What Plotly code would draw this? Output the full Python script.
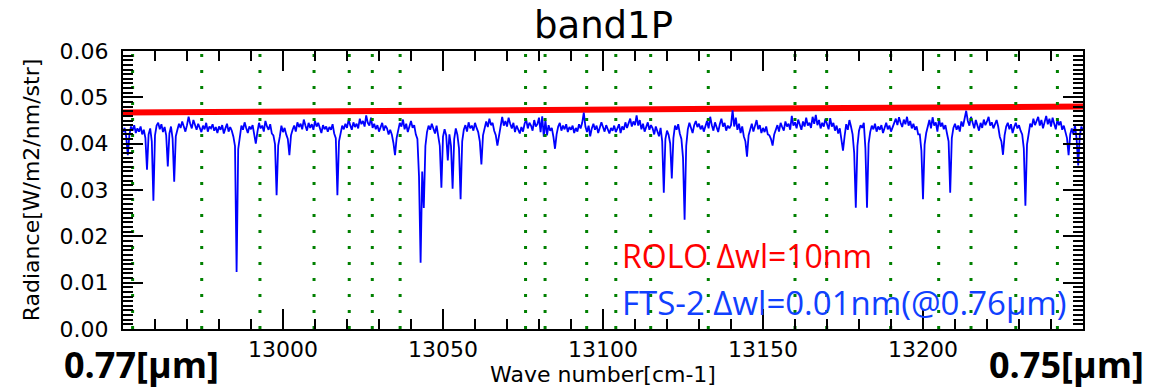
import numpy as np
import plotly.graph_objects as go

# ---------------- data ----------------
wn_start = 12950.0
wn_step = 0.5
# FTS-2 radiance, sampled every 0.5 cm-1 from 12950 to 13250 (one row = 10 cm-1)
radiance = [
    0.0425, 0.0434, 0.0415, 0.0375, 0.0419, 0.0437, 0.0428, 0.0440, 0.0423, 0.0433, 0.0426, 0.0437, 0.0420, 0.0430, 0.0412, 0.0344, 0.0420, 0.0433, 0.0405, 0.0277,
    0.0418, 0.0439, 0.0445, 0.0431, 0.0442, 0.0425, 0.0436, 0.0418, 0.0351, 0.0422, 0.0437, 0.0411, 0.0318, 0.0416, 0.0430, 0.0443, 0.0434, 0.0448, 0.0437, 0.0426,
    0.0440, 0.0458, 0.0443, 0.0433, 0.0451, 0.0439, 0.0430, 0.0443, 0.0434, 0.0425, 0.0439, 0.0431, 0.0445, 0.0426, 0.0437, 0.0433, 0.0442, 0.0428, 0.0436, 0.0423,
    0.0437, 0.0430, 0.0440, 0.0422, 0.0433, 0.0443, 0.0426, 0.0436, 0.0428, 0.0415, 0.0395, 0.0123, 0.0388, 0.0419, 0.0439, 0.0430, 0.0446, 0.0434, 0.0423, 0.0437,
    0.0431, 0.0440, 0.0416, 0.0400, 0.0425, 0.0445, 0.0433, 0.0439, 0.0426, 0.0449, 0.0437, 0.0430, 0.0442, 0.0422, 0.0418, 0.0399, 0.0289, 0.0396, 0.0415, 0.0439,
    0.0425, 0.0434, 0.0420, 0.0410, 0.0375, 0.0418, 0.0430, 0.0439, 0.0426, 0.0446, 0.0436, 0.0443, 0.0431, 0.0452, 0.0439, 0.0428, 0.0445, 0.0434, 0.0442, 0.0430,
    0.0449, 0.0437, 0.0445, 0.0433, 0.0423, 0.0440, 0.0431, 0.0437, 0.0426, 0.0436, 0.0430, 0.0442, 0.0422, 0.0412, 0.0289, 0.0405, 0.0425, 0.0439, 0.0431, 0.0443,
    0.0434, 0.0452, 0.0440, 0.0430, 0.0446, 0.0436, 0.0443, 0.0433, 0.0454, 0.0442, 0.0449, 0.0437, 0.0461, 0.0445, 0.0439, 0.0456, 0.0434, 0.0443, 0.0431, 0.0440,
    0.0426, 0.0437, 0.0445, 0.0428, 0.0439, 0.0433, 0.0420, 0.0430, 0.0420, 0.0402, 0.0375, 0.0412, 0.0433, 0.0445, 0.0437, 0.0452, 0.0431, 0.0443, 0.0425, 0.0439,
    0.0449, 0.0434, 0.0440, 0.0420, 0.0410, 0.0330, 0.0143, 0.0340, 0.0261, 0.0395, 0.0425, 0.0439, 0.0430, 0.0443, 0.0433, 0.0422, 0.0439, 0.0420, 0.0395, 0.0305,
    0.0415, 0.0431, 0.0418, 0.0364, 0.0420, 0.0395, 0.0303, 0.0410, 0.0433, 0.0419, 0.0390, 0.0280, 0.0405, 0.0430, 0.0440, 0.0426, 0.0446, 0.0433, 0.0439, 0.0428,
    0.0445, 0.0434, 0.0425, 0.0405, 0.0355, 0.0418, 0.0437, 0.0448, 0.0436, 0.0454, 0.0440, 0.0445, 0.0428, 0.0418, 0.0396, 0.0420, 0.0443, 0.0458, 0.0439, 0.0449,
    0.0437, 0.0456, 0.0443, 0.0433, 0.0445, 0.0425, 0.0439, 0.0430, 0.0422, 0.0436, 0.0426, 0.0443, 0.0452, 0.0433, 0.0445, 0.0439, 0.0428, 0.0451, 0.0437, 0.0442,
    0.0456, 0.0425, 0.0459, 0.0415, 0.0451, 0.0418, 0.0440, 0.0428, 0.0434, 0.0415, 0.0389, 0.0420, 0.0437, 0.0445, 0.0428, 0.0439, 0.0431, 0.0442, 0.0425, 0.0436,
    0.0430, 0.0439, 0.0423, 0.0434, 0.0426, 0.0442, 0.0433, 0.0445, 0.0467, 0.0437, 0.0425, 0.0439, 0.0416, 0.0433, 0.0443, 0.0430, 0.0439, 0.0423, 0.0437, 0.0446,
    0.0436, 0.0426, 0.0440, 0.0430, 0.0422, 0.0434, 0.0428, 0.0439, 0.0425, 0.0433, 0.0442, 0.0423, 0.0437, 0.0430, 0.0446, 0.0434, 0.0443, 0.0454, 0.0437, 0.0448,
    0.0440, 0.0461, 0.0439, 0.0451, 0.0431, 0.0443, 0.0426, 0.0437, 0.0446, 0.0430, 0.0440, 0.0433, 0.0420, 0.0437, 0.0428, 0.0416, 0.0434, 0.0405, 0.0294, 0.0410,
    0.0428, 0.0419, 0.0400, 0.0325, 0.0412, 0.0439, 0.0430, 0.0442, 0.0422, 0.0410, 0.0370, 0.0236, 0.0395, 0.0431, 0.0445, 0.0433, 0.0423, 0.0440, 0.0449, 0.0436,
    0.0443, 0.0431, 0.0439, 0.0426, 0.0437, 0.0449, 0.0433, 0.0458, 0.0440, 0.0428, 0.0446, 0.0436, 0.0425, 0.0442, 0.0454, 0.0437, 0.0445, 0.0428, 0.0439, 0.0433,
    0.0440, 0.0472, 0.0437, 0.0456, 0.0430, 0.0443, 0.0423, 0.0437, 0.0416, 0.0405, 0.0372, 0.0418, 0.0433, 0.0443, 0.0426, 0.0439, 0.0451, 0.0431, 0.0440, 0.0423,
    0.0434, 0.0425, 0.0437, 0.0420, 0.0418, 0.0410, 0.0396, 0.0420, 0.0433, 0.0440, 0.0426, 0.0445, 0.0436, 0.0428, 0.0448, 0.0437, 0.0443, 0.0430, 0.0460, 0.0439,
    0.0446, 0.0433, 0.0452, 0.0440, 0.0430, 0.0448, 0.0437, 0.0456, 0.0439, 0.0445, 0.0434, 0.0458, 0.0443, 0.0462, 0.0440, 0.0451, 0.0433, 0.0445, 0.0437, 0.0454,
    0.0442, 0.0431, 0.0455, 0.0437, 0.0445, 0.0428, 0.0439, 0.0422, 0.0433, 0.0412, 0.0385, 0.0416, 0.0442, 0.0430, 0.0451, 0.0437, 0.0420, 0.0380, 0.0262, 0.0395,
    0.0428, 0.0440, 0.0434, 0.0445, 0.0390, 0.0262, 0.0400, 0.0425, 0.0439, 0.0431, 0.0443, 0.0426, 0.0437, 0.0430, 0.0440, 0.0423, 0.0434, 0.0445, 0.0431, 0.0439,
    0.0426, 0.0437, 0.0446, 0.0454, 0.0440, 0.0457, 0.0445, 0.0436, 0.0452, 0.0442, 0.0458, 0.0439, 0.0449, 0.0433, 0.0443, 0.0430, 0.0437, 0.0420, 0.0420, 0.0385,
    0.0280, 0.0398, 0.0423, 0.0440, 0.0451, 0.0433, 0.0457, 0.0439, 0.0446, 0.0426, 0.0454, 0.0437, 0.0445, 0.0431, 0.0440, 0.0422, 0.0405, 0.0294, 0.0412, 0.0434,
    0.0443, 0.0430, 0.0439, 0.0426, 0.0448, 0.0437, 0.0455, 0.0471, 0.0449, 0.0439, 0.0458, 0.0443, 0.0433, 0.0451, 0.0439, 0.0428, 0.0445, 0.0434, 0.0452, 0.0440,
    0.0448, 0.0458, 0.0439, 0.0446, 0.0433, 0.0442, 0.0451, 0.0437, 0.0415, 0.0405, 0.0376, 0.0418, 0.0437, 0.0445, 0.0431, 0.0442, 0.0423, 0.0436, 0.0445, 0.0433,
    0.0440, 0.0428, 0.0420, 0.0390, 0.0266, 0.0398, 0.0426, 0.0443, 0.0436, 0.0454, 0.0440, 0.0448, 0.0458, 0.0439, 0.0451, 0.0433, 0.0445, 0.0460, 0.0442, 0.0454,
    0.0437, 0.0456, 0.0443, 0.0431, 0.0452, 0.0440, 0.0448, 0.0430, 0.0439, 0.0425, 0.0412, 0.0375, 0.0420, 0.0433, 0.0420, 0.0440, 0.0410, 0.0353, 0.0418, 0.0437,
    0.0428,
]
wavenumber = wn_start + wn_step * np.arange(len(radiance))

# ROLO (10 nm resolution) radiance
rolo_wavenumber = [12950, 13250]
rolo_radiance = [0.0467, 0.0480]

# band boundaries (green dotted lines), cm-1
band_lines = [12953.0, 12974.6, 12992.8, 13009.7, 13020.7, 13027.9, 13036.6,
              13075.8, 13081.9, 13094.9, 13104.0, 13114.9, 13132.9, 13160.0,
              13169.9, 13189.9, 13204.9, 13215.0, 13229.0, 13242.0]

x_range = [12950, 13250]
y_range = [0.0, 0.06]
x_tickvals = [13000, 13050, 13100, 13150, 13200]
y_tickvals = [0.00, 0.01, 0.02, 0.03, 0.04, 0.05, 0.06]

title_text = "band1P"
x_title = "Wave number[cm-1]"
y_title = "Radiance[W/m2/nm/str]"
rolo_label = "ROLO Δwl=10nm"
fts_label = "FTS-2 Δwl=0.01nm(@0.76μm)"
left_wl = "0.77[μm]"
right_wl = "0.75[μm]"

# ---------------- figure ----------------
fig = go.Figure()

fig.add_trace(go.Scatter(x=rolo_wavenumber, y=rolo_radiance, mode="lines",
                         line=dict(color="#ff0000", width=6), hoverinfo="skip"))
fig.add_trace(go.Scatter(x=wavenumber, y=radiance, mode="lines",
                         line=dict(color="#0000ff", width=1.8), hoverinfo="skip"))
for v in band_lines:
    fig.add_trace(go.Scatter(x=[v, v], y=y_range, mode="lines",
                             line=dict(color="#008000", width=3, dash="3px,13px"),
                             hoverinfo="skip"))

axis_font = dict(family="DejaVu Sans", size=22, color="black")

fig.update_layout(
    width=1151, height=390,
    margin=dict(l=123, r=68, t=51, b=58),
    paper_bgcolor="white", plot_bgcolor="white",
    showlegend=False,
    font=dict(family="DejaVu Sans", color="black"),
)

fig.update_xaxes(
    range=x_range, tickvals=x_tickvals, ticktext=[str(v) for v in x_tickvals],
    ticks="inside", ticklen=20, tickwidth=1.5, tickcolor="black",
    minor=dict(dtick=10, tick0=12950, ticks="inside", ticklen=10, tickwidth=1.5, tickcolor="black"),
    showline=True, linecolor="black", linewidth=2, mirror="ticks",
    showgrid=False, zeroline=False, tickfont=axis_font, ticklabelstandoff=0,
    title=dict(text=x_title, font=dict(family="DejaVu Sans", size=22, color="black"), standoff=0),
)
fig.update_yaxes(
    range=y_range, tickvals=y_tickvals, ticktext=[f"{v:.2f}" for v in y_tickvals],
    ticks="inside", ticklen=20, tickwidth=1.5, tickcolor="black",
    minor=dict(dtick=0.001, tick0=0, ticks="inside", ticklen=10, tickwidth=1.5, tickcolor="black"),
    showline=True, linecolor="black", linewidth=2, mirror="ticks",
    showgrid=False, zeroline=False, tickfont=axis_font, ticklabelstandoff=8,
    title=dict(text=y_title, font=dict(family="DejaVu Sans", size=22, color="black"), standoff=14),
)

# title
fig.add_annotation(x=0.5, y=1, xref="paper", yref="paper", xanchor="center", yanchor="bottom",
                   yshift=2, showarrow=False, text=title_text,
                   font=dict(family="DejaVu Sans", size=37, color="black"))

ann_font = "Open Sans"
fig.add_annotation(x=(620 - 123) / 960, y=(332 - 258) / 281, xref="paper", yref="paper",
                   xanchor="left", yanchor="middle", showarrow=False, text=rolo_label,
                   font=dict(family=ann_font, size=32, color="#ff0000"))
fig.add_annotation(x=(620 - 123) / 960, y=(332 - 305) / 281, xref="paper", yref="paper",
                   xanchor="left", yanchor="middle", showarrow=False, text=fts_label,
                   font=dict(family=ann_font, size=33, color="#1040ff"))
fig.add_annotation(x=(62 - 123) / 960, y=(332 - 368) / 281, xref="paper", yref="paper",
                   xanchor="left", yanchor="middle", showarrow=False,
                   text="<b>" + left_wl + "</b>",
                   font=dict(family=ann_font, size=36, color="black"))
fig.add_annotation(x=(1146 - 123) / 960, y=(332 - 368) / 281, xref="paper", yref="paper",
                   xanchor="right", yanchor="middle", showarrow=False,
                   text="<b>" + right_wl + "</b>",
                   font=dict(family=ann_font, size=36, color="black"))

fig.write_html("out.html")
